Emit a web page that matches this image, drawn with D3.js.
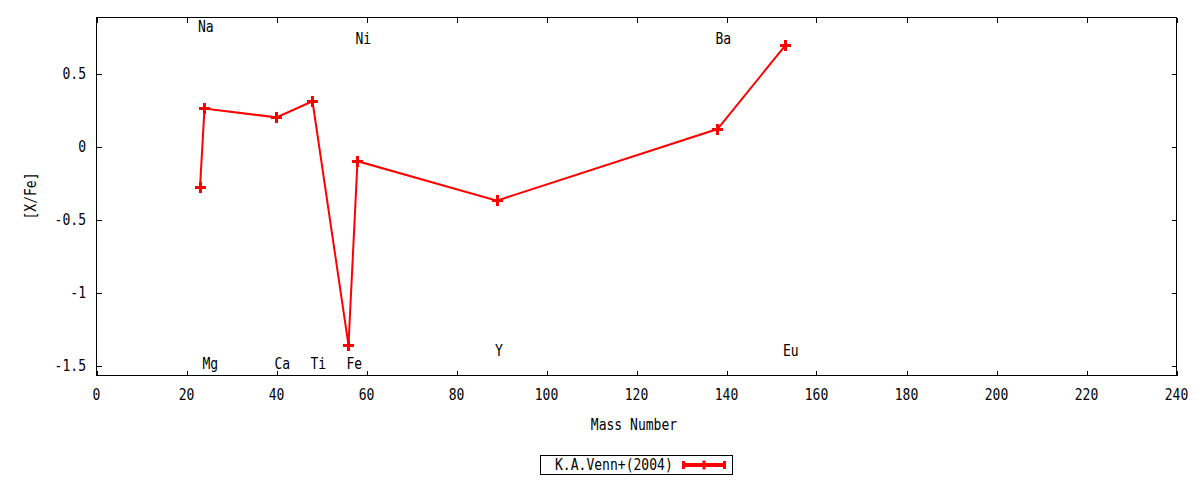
<!DOCTYPE html>
<html><head><meta charset="utf-8">
<script src="https://cdn.jsdelivr.net/npm/d3@7"></script>
<style>
body{margin:0;background:#fff}
text{font-family:"DejaVu Sans Mono",monospace;font-size:15px;fill:#000}
</style>
</head><body>
<svg id="c" width="1200" height="480"></svg>
<script>
// ---- data ----
const elements   = ["Na","Mg","Ca","Ti","Fe","Ni","Y","Ba","Eu"];
const massNumber = [23, 24, 40, 48, 56, 58, 89, 138, 153];
const xfe        = [-0.28, 0.26, 0.20, 0.31, -1.36, -0.10, -0.37, 0.12, 0.69];
const labelMass  = [23, 24, 40, 48, 56, 58, 89, 138, 153];
const labelY     = [0.82, -1.49, -1.49, -1.49, -1.49, 0.74, -1.40, 0.74, -1.40];
const xTicks     = [0,20,40,60,80,100,120,140,160,180,200,220,240];
const yTicks     = [-1.5,-1,-0.5,0,0.5];
const xDomain    = [0, 240];
const yDomain    = [-1.568, 0.884];
const seriesName = "K.A.Venn+(2004)";
const xTitle = "Mass Number", yTitle = "[X/Fe]";

// ---- layout ----
const L = 96.5, R = 1176.5, T = 17.5, B = 375.5;
const RED = "#ff0000";
const SX = 0.87; // horizontal condensation of the glyphs
const svg = d3.select("#c");
const x = d3.scaleLinear().domain(xDomain).range([L, R]);
const y = d3.scaleLinear().domain(yDomain).range([B, T]);
const tl = 5;

function txt(parent, px, py, s, anchor, central, rot){
  const t = parent.append("text")
    .attr("transform", `translate(${px},${py})` + (rot ? ` rotate(${rot})` : "") + ` scale(${SX},1)`)
    .attr("text-anchor", anchor || "start")
    .text(s);
  if (central) t.attr("dominant-baseline","central");
  return t;
}

const g = svg.append("g").attr("shape-rendering","crispEdges");
xTicks.forEach(t => {
  const px = Math.round(x(t)) + 0.5;
  g.append("line").attr("x1",px).attr("x2",px).attr("y1",B).attr("y2",B-tl).attr("stroke","#000");
  g.append("line").attr("x1",px).attr("x2",px).attr("y1",T).attr("y2",T+tl).attr("stroke","#000");
  txt(svg, x(t), 399.5, t, "middle", false);
});
yTicks.forEach(t => {
  const py = Math.round(y(t)) + 0.5;
  g.append("line").attr("x1",L).attr("x2",L+tl).attr("y1",py).attr("y2",py).attr("stroke","#000");
  g.append("line").attr("x1",R).attr("x2",R-tl).attr("y1",py).attr("y2",py).attr("stroke","#000");
  txt(svg, 86, y(t), String(t), "end", true);
});
g.append("rect").attr("x",L).attr("y",T).attr("width",R-L).attr("height",B-T)
 .attr("fill","none").attr("stroke","#000");

// axis titles
txt(svg, 634, 429.5, xTitle, "middle", false);
txt(svg, 31, 196, yTitle, "middle", true, -90);

// element labels
elements.forEach((e,i) => {
  txt(svg, x(labelMass[i]) - 2, y(labelY[i]), e, "start", true);
});

// series
const pts = massNumber.map((m,i)=>[m, xfe[i]]);
svg.append("path").datum(pts)
   .attr("d", d3.line().x(d=>x(d[0])).y(d=>y(d[1])))
   .attr("fill","none").attr("stroke",RED).attr("stroke-width",2);

function plus(sel, cx, cy, s, w){
  sel.append("rect").attr("x",cx - s/2).attr("y",cy - w/2).attr("width",s).attr("height",w).attr("fill",RED);
  sel.append("rect").attr("x",cx - w/2).attr("y",cy - s/2).attr("width",w).attr("height",s).attr("fill",RED);
}
const mg = svg.append("g").attr("shape-rendering","crispEdges");
pts.forEach(d => plus(mg, x(d[0]), y(d[1]), 11, 3));

// legend
const lg = svg.append("g");
lg.append("rect").attr("x",540.5).attr("y",455.5).attr("width",192).attr("height",19)
  .attr("fill","none").attr("stroke","#000").attr("shape-rendering","crispEdges");
txt(lg, 555, 465, seriesName, "start", true);
lg.append("line").attr("x1",683).attr("x2",725).attr("y1",465).attr("y2",465)
  .attr("stroke",RED).attr("stroke-width",4);
lg.append("rect").attr("x",682).attr("y",461).attr("width",3).attr("height",8).attr("fill",RED);
lg.append("rect").attr("x",723).attr("y",461).attr("width",3).attr("height",8).attr("fill",RED);
plus(lg, 704, 465, 9, 3);
</script>
</body></html>
